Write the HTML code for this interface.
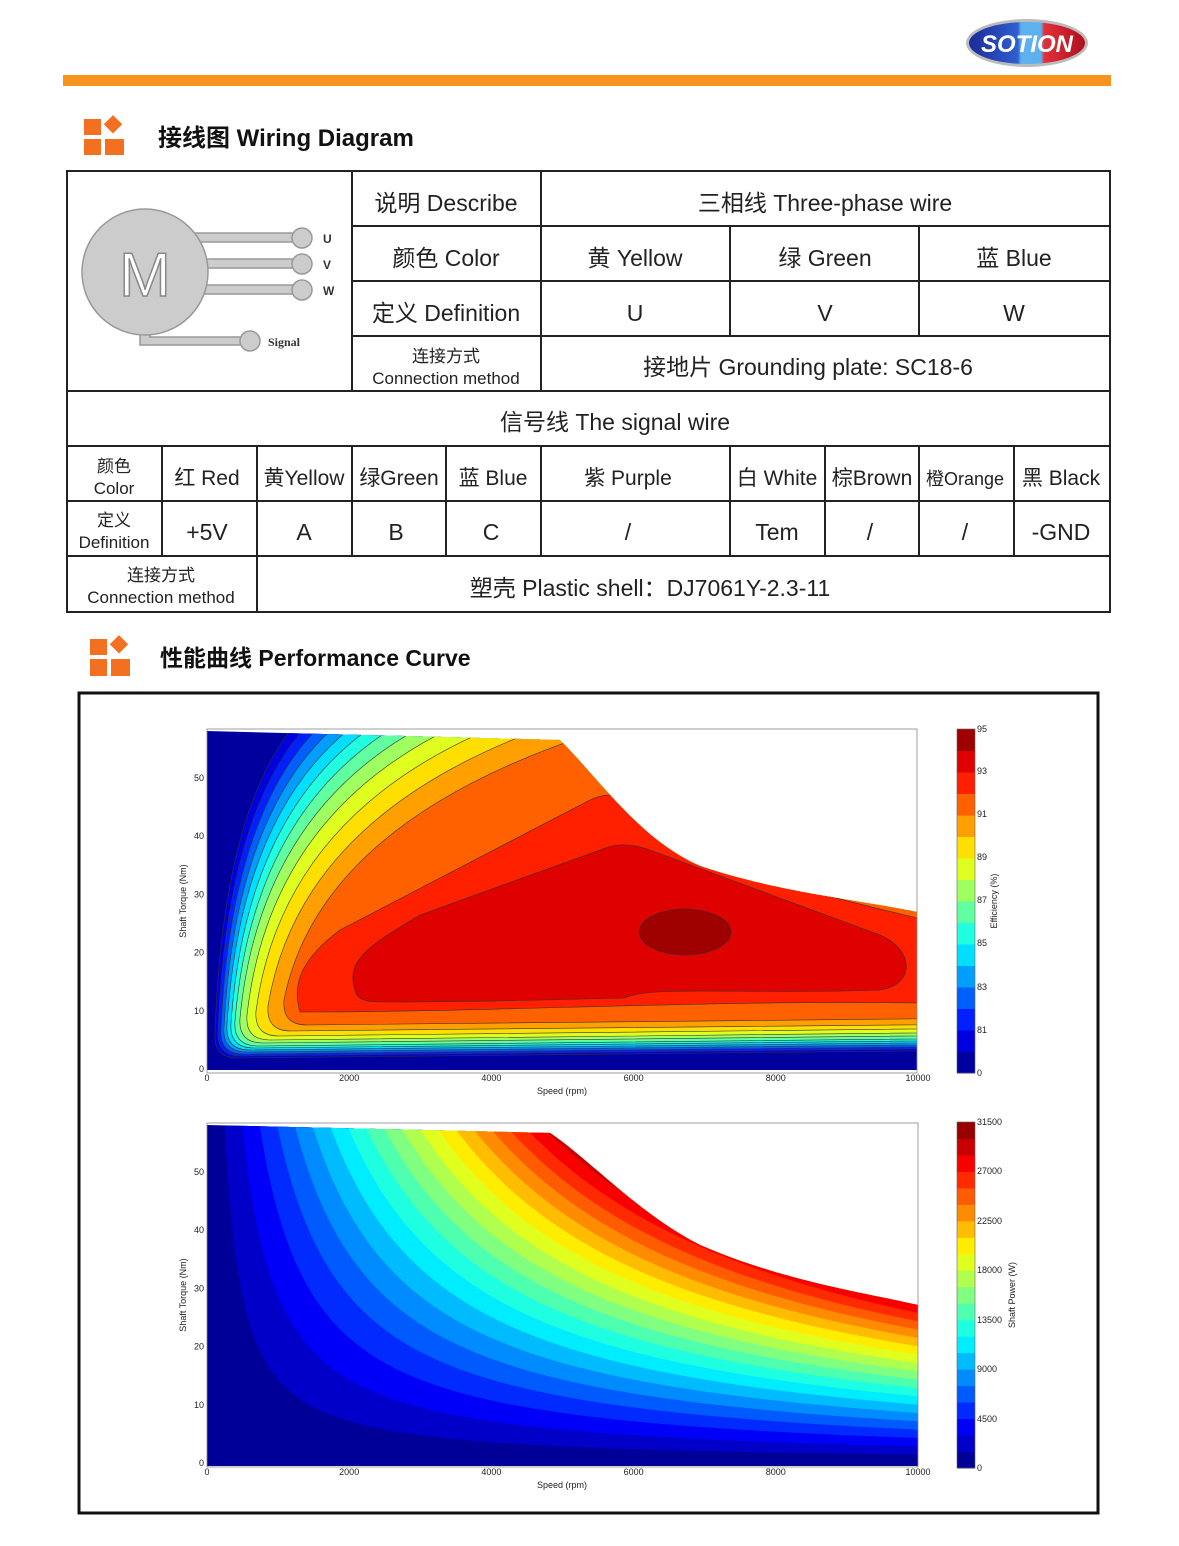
<!DOCTYPE html>
<html><head><meta charset="utf-8"><style>
body{margin:0;background:#fff;width:1179px;height:1541px;overflow:hidden;font-family:"Liberation Sans","Noto Sans CJK SC",sans-serif}
svg text{font-family:"Liberation Sans","Noto Sans CJK SC",sans-serif}
</style></head><body>
<svg id="s" width="1179" height="1541" viewBox="0 0 1179 1541" xmlns="http://www.w3.org/2000/svg">
<defs>
<clipPath id="env1"><path d="M207,731 L560,740 C600,780 640,840 700,866 C780,893 860,900 917,912 L917,1070 L207,1070 Z"/></clipPath>
<clipPath id="env2"><path d="M207,1125 L550,1133 C590,1160 640,1215 700,1245 C780,1280 860,1292 918,1305 L918,1466 L207,1466 Z"/></clipPath>
<linearGradient id="lg" x1="0" x2="1"><stop offset="0" stop-color="#1c2a9a"/><stop offset="0.42" stop-color="#2f5fd0"/><stop offset="0.45" stop-color="#5fb0ef"/><stop offset="0.62" stop-color="#5fb0ef"/><stop offset="0.65" stop-color="#e0303a"/><stop offset="1" stop-color="#b01020"/></linearGradient>
</defs>
<!-- logo -->
<ellipse cx="1027" cy="43" rx="61" ry="24" fill="#bbb"/>
<ellipse cx="1027" cy="43" rx="58" ry="21" fill="url(#lg)"/>
<text x="1027" y="52" font-size="24" font-weight="bold" fill="#fff" text-anchor="middle" font-style="italic">SOTION</text>
<rect x="63" y="75" width="1048" height="11" fill="#f7941d"/>
<!-- header 1 -->
<g fill="#f37021"><rect x="84" y="119" width="17" height="16"/><rect x="84" y="139" width="17" height="16"/><rect x="105" y="139" width="19" height="16"/><rect x="106" y="118" width="13" height="13" transform="rotate(45 113 125)"/></g>
<text x="158" y="146" font-size="24" font-weight="bold" fill="#111">接线图 Wiring Diagram</text>
<g fill="#f37021"><rect x="90" y="639" width="17" height="16"/><rect x="90" y="659" width="17" height="17"/><rect x="111" y="659" width="19" height="17"/><rect x="112" y="638" width="13" height="13" transform="rotate(45 119 645)"/></g>
<text x="160" y="666" font-size="23" font-weight="bold" fill="#111">性能曲线 Performance Curve</text>
<!-- table -->
<g stroke="#222" stroke-width="2" fill="none">
<rect x="67" y="171" width="1043" height="441"/>
<line x1="352" y1="226" x2="1110" y2="226"/><line x1="352" y1="281" x2="1110" y2="281"/><line x1="352" y1="336" x2="1110" y2="336"/>
<line x1="67" y1="391" x2="1110" y2="391"/><line x1="67" y1="446" x2="1110" y2="446"/><line x1="67" y1="501" x2="1110" y2="501"/><line x1="67" y1="556" x2="1110" y2="556"/>
<line x1="352" y1="171" x2="352" y2="391"/><line x1="541" y1="171" x2="541" y2="391"/><line x1="730" y1="226" x2="730" y2="336"/><line x1="919" y1="226" x2="919" y2="336"/>
<line x1="162" y1="446" x2="162" y2="556"/><line x1="257" y1="446" x2="257" y2="612"/><line x1="352" y1="446" x2="352" y2="556"/><line x1="446" y1="446" x2="446" y2="556"/><line x1="541" y1="446" x2="541" y2="556"/><line x1="730" y1="446" x2="730" y2="556"/><line x1="825" y1="446" x2="825" y2="556"/><line x1="919" y1="446" x2="919" y2="556"/><line x1="1014" y1="446" x2="1014" y2="556"/>
</g>
<g font-size="23" fill="#222" text-anchor="middle">
<text x="446" y="211">说明 Describe</text><text x="825" y="211">三相线 Three-phase wire</text>
<text x="446" y="266">颜色 Color</text><text x="635" y="266">黄 Yellow</text><text x="825" y="266">绿 Green</text><text x="1014" y="266">蓝 Blue</text>
<text x="446" y="321">定义 Definition</text><text x="635" y="321">U</text><text x="825" y="321">V</text><text x="1014" y="321">W</text>
<text x="446" y="362" font-size="17">连接方式</text><text x="446" y="384" font-size="17">Connection method</text>
<text x="808" y="375">接地片 Grounding plate: SC18-6</text>
<text x="615" y="430">信号线 The signal wire</text>
<text x="114" y="472" font-size="17">颜色</text><text x="114" y="494" font-size="17">Color</text>
<text x="207" y="485" font-size="21">红 Red</text><text x="304" y="485" font-size="21">黄Yellow</text><text x="399" y="485" font-size="21">绿Green</text><text x="493" y="485" font-size="21">蓝 Blue</text><text x="628" y="485" font-size="21">紫 Purple</text><text x="777" y="485" font-size="21">白 White</text><text x="872" y="485" font-size="21">棕Brown</text><text x="965" y="485" font-size="18">橙Orange</text><text x="1061" y="485" font-size="21">黑 Black</text>
<text x="114" y="526" font-size="17">定义</text><text x="114" y="548" font-size="17">Definition</text>
<text x="207" y="540">+5V</text><text x="304" y="540">A</text><text x="396" y="540">B</text><text x="491" y="540">C</text><text x="628" y="540">/</text><text x="777" y="540">Tem</text><text x="870" y="540">/</text><text x="965" y="540">/</text><text x="1061" y="540">-GND</text>
<text x="161" y="581" font-size="17">连接方式</text><text x="161" y="603" font-size="17">Connection method</text>
<text x="650" y="596">塑壳 Plastic shell：DJ7061Y-2.3-11</text>
</g>
<!-- motor -->
<g fill="#ccc" stroke="#999" stroke-width="1.5">
<rect x="190" y="233" width="112" height="9"/><rect x="195" y="259" width="107" height="9"/><rect x="190" y="285" width="112" height="9"/>
<path d="M140,320 L140,345 L250,345 L250,337 L150,337 L150,320 Z"/>
<circle cx="145" cy="272" r="63"/>
<circle cx="302" cy="238" r="10"/><circle cx="302" cy="264" r="10"/><circle cx="302" cy="290" r="10"/><circle cx="250" cy="341" r="10"/>
</g>
<text x="145" y="296" font-size="62" fill="#fff" stroke="#888" stroke-width="1.5" text-anchor="middle">M</text>
<g font-size="12" font-weight="bold" fill="#333"><text x="323" y="243">U</text><text x="323" y="269">V</text><text x="323" y="295">W</text><text x="268" y="346" style="font-family:'Liberation Serif',serif">Signal</text></g>
<!-- frame -->
<rect x="79" y="693" width="1019" height="820" fill="none" stroke="#111" stroke-width="3"/>
<g id="p1"></g><g id="p2"></g>
<g id="ax" font-size="9" fill="#222"></g>
</svg>
<script>
function jet(t){function c(v){return Math.round(255*Math.max(0,Math.min(1,v)))}return 'rgb('+c(1.5-Math.abs(4*t-3))+','+c(1.5-Math.abs(4*t-2))+','+c(1.5-Math.abs(4*t-1))+')';}
var NS='http://www.w3.org/2000/svg';
function el(p,tag,a,txt){var e=document.createElementNS(NS,tag);for(var k in a)e.setAttribute(k,a[k]);if(txt!=null)e.textContent=txt;p.appendChild(e);return e;}
var p1=document.getElementById('p1'),p2=document.getElementById('p2'),ax=document.getElementById('ax');
// plot1
var g1=el(p1,'g',{'clip-path':'url(#env1)'});
el(g1,'rect',{x:207,y:720,width:720,height:360,fill:jet(0.5/16)});
var L=[[213,1058,290,1050],[216,1056,302,1048],[219,1054,315,1046],[222,1052,330,1044],[225,1050,347,1042],[229,1048,366,1040],[233,1046,388,1038],[238,1043,414,1035],[245,1040,445,1032],[254,1036,485,1028],[266,1031,535,1024],[282,1025,600,1018]];
for(var k=0;k<L.length;k++){var a=L[k];var cx=a[0]+(a[2]-a[0])*0.12;
var d='M1000,'+a[3]+' L'+(a[0]+25)+','+a[1]+' Q'+a[0]+','+a[1]+' '+(a[0]+2)+','+(a[1]-25)+' Q'+cx.toFixed(1)+',820 '+a[2]+',731 L'+(a[2]+60)+',700 L1000,700 Z';
el(g1,'path',{d:d,fill:jet((k+1.5)/16),stroke:'#333','stroke-width':0.6});}
el(g1,'path',{d:'M300,1012 C292,985 300,960 340,930 L590,800 C610,790 630,795 660,820 C720,870 800,890 917,918 L1000,918 L1000,1003 L917,1003 C700,1000 500,1012 300,1012 Z',fill:jet(13.5/16),stroke:'#333','stroke-width':0.6});
el(g1,'path',{d:'M355,990 C345,960 370,945 420,915 L600,850 C615,843 630,843 650,850 L880,935 C915,950 915,985 880,990 C750,995 650,985 625,998 C550,1000 450,1002 380,1002 C360,1002 356,996 355,990 Z',fill:jet(14.5/16),stroke:'#333','stroke-width':0.6});
el(g1,'ellipse',{cx:685,cy:932,rx:46,ry:23,fill:jet(15.5/16),stroke:'#333','stroke-width':0.6});
el(p1,'rect',{x:207,y:729,width:710,height:344,fill:'none',stroke:'#888','stroke-width':0.8});
// plot2
var g2=el(p2,'g',{'clip-path':'url(#env2)'});
el(g2,'rect',{x:207,y:1115,width:720,height:360,fill:jet(0.5/21)});
function X(n){return 207+n*0.0711;}function Y(T){return 1463-T*5.82;}
for(var i=1;i<21;i++){var P=1500*i,pts=[];for(var n=50;n<=10000;n+=50){var T=P/(n*Math.PI/30);if(T>62)continue;pts.push(X(n).toFixed(1)+','+Y(T).toFixed(1));}
if(!pts.length)continue;el(g2,'path',{d:'M'+pts.join(' L')+' L950,'+Y(0)+' L950,1100 L'+pts[0].split(',')[0]+',1100 Z',fill:jet((i+0.5)/21)});}
el(p2,'rect',{x:207,y:1123,width:711,height:344,fill:'none',stroke:'#888','stroke-width':0.8});
// axes
function axes(y0,top,cb,lab,labs,cbTop,cbBot,nb,title){
 [0,2000,4000,6000,8000,10000].forEach(function(v){el(ax,'text',{x:X(v),y:top+352,'text-anchor':'middle'},v);});
 for(var t=0;t<=50;t+=10)el(ax,'text',{x:204,y:y0-t*5.82+3,'text-anchor':'end'},t);
 el(ax,'text',{x:562,y:top+365,'text-anchor':'middle'},'Speed  (rpm)');
 el(ax,'text',{x:186,y:top+172,'text-anchor':'middle',transform:'rotate(-90 186 '+(top+172)+')'},'Shaft Torque  (Nm)');
 var h=(cbBot-cbTop)/nb;for(var i=0;i<nb;i++)el(ax,'rect',{x:957,y:cbBot-(i+1)*h,width:18,height:h+0.5,fill:jet((i+0.5)/nb)});
 el(ax,'rect',{x:957,y:cbTop,width:18,height:cbBot-cbTop,fill:'none',stroke:'#666','stroke-width':0.6});
 labs.forEach(function(l){el(ax,'text',{x:977,y:l[1]+3},l[0]);});
 el(ax,'text',{x:cb,y:(cbTop+cbBot)/2,'text-anchor':'middle',transform:'rotate(-90 '+cb+' '+((cbTop+cbBot)/2)+')'},title);
}
axes(1069,729,997,0,[[95,729],[93,771],[91,814],[89,857],[87,900],[85,943],[83,987],[81,1030],[0,1073]],729,1073,16,'Efficiency (%)');
axes(1463,1123,1015,0,[[31500,1122],[27000,1171],[22500,1221],[18000,1270],[13500,1320],[9000,1369],[4500,1419],[0,1468]],1122,1468,21,'Shaft Power (W)');
</script>
</body></html>
